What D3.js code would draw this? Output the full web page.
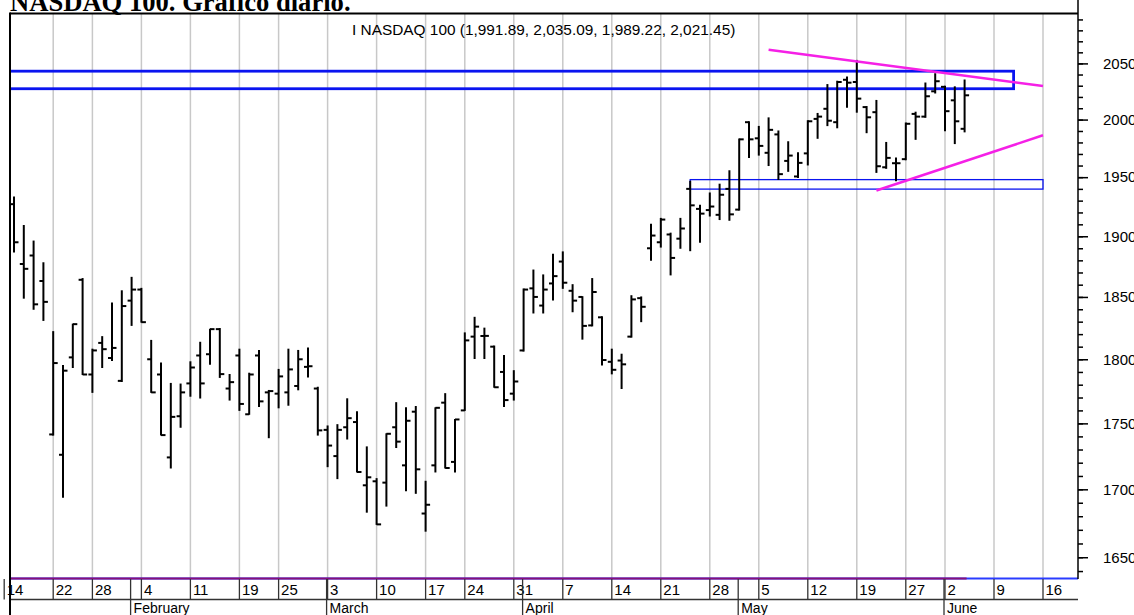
<!DOCTYPE html>
<html><head><meta charset="utf-8">
<script src="https://cdn.jsdelivr.net/npm/d3@7"></script>
<style>body{margin:0;background:#fff;} svg{display:block;}</style>
</head><body>
<svg id="c" width="1134" height="615"></svg>
<script>
// ---- data (daily OHLC, trading-day index 0..97) ----
const opens  = [1927,1877,1884,1863,1741.5,1726,1801.5,1864,1788,1813,1801,1783,1847,1856,1800,1788,1724,1755.5,1781,1803,1804,1824,1777,1803,1757,1803,1774,1773,1774,1779,1794,1777,1745,1725,1747,1751,1703,1706,1705,1747,1718,1759,1682,1718,1766,1720.6,1760,1818,1818.5,1810,1790,1773,1807,1857,1843,1861,1879,1855,1850,1827,1833.5,1798,1799,1818,1849,1890,1895,1901.5,1898,1940,1923,1922,1918,1940,1922.4,1997.7,1983.6,1971,1987,1964,1950.6,1970.5,2000.6,2009.5,1997.7,2035.3,2033.3,2011,2006.5,1958.5,1962,1965.5,2005,2002.6,2025,2029,2017,1991.89];
const highs  = [1933,1909,1896,1878,1822,1795,1828,1865,1808,1818,1845,1855,1866,1857,1815,1797,1781,1780.5,1798,1813.5,1824,1824.5,1788,1808,1789,1807,1775.5,1792,1808,1807,1809,1778,1748,1749,1769,1759,1732,1708,1742,1766,1762,1763,1706,1762,1773,1753,1821,1833.5,1824.8,1810.5,1803,1791,1856.5,1872,1868,1885,1887,1860,1850.2,1865,1834,1808,1804,1851,1850,1910,1915,1902.6,1915,1946.5,1926,1936.5,1944,1955.5,1983,1998,1994,2001.5,1990,1980.6,1971,1999,2005.4,2031,2034,2037.7,2052.7,2011.5,2016.9,1980,1966.6,1997,2006.5,2032.4,2040.7,2029.5,2029,2035.09];
const lows   = [1887,1849,1840,1831,1741,1694,1793.5,1788,1774,1793.5,1799,1782.5,1827,1829.6,1774,1741,1716,1747,1771,1769.6,1796,1785.7,1768,1760,1757,1763,1739,1762,1764,1776,1786,1741,1717,1708,1738,1713,1683,1674,1687.5,1731.5,1699,1697,1669,1713,1716,1713,1760,1800.6,1800.6,1778,1763,1768,1806.5,1837,1837,1847.5,1857,1838,1816,1826.6,1795.5,1788.5,1777,1817.6,1830,1880,1891,1868,1890,1888,1895,1917,1914,1913.4,1922,1967,1969,1960,1948,1955,1949.8,1960.5,1983.6,1994.7,1992.8,2010.9,2006.5,1988.5,1954.1,1957.6,1946.9,1965,1982.7,2002,2023.5,1990.2,1979,1989.22];
const closes = [1895,1873,1844,1846,1797,1791,1828,1788,1807,1808,1809,1842.6,1856,1829.6,1774,1741,1755,1774,1793.5,1781,1824,1788.3,1782,1765,1788,1767,1775,1786.5,1792,1800,1794.5,1744.6,1733,1745,1754,1713,1709,1674,1742,1736,1752,1715,1688.5,1762,1716,1753,1815,1826,1818.6,1778,1768,1782.5,1856,1850,1856,1867,1861.6,1847,1826.6,1854,1799.4,1791.7,1796,1848,1842,1900.6,1914,1882,1906.5,1926,1919,1925,1935,1918.4,1982.7,1982.7,1977,1991,1952.6,1968.6,1962.3,1998.5,2002.6,1999,2033.3,2032.7,2018.5,2002,1959.4,1966.6,1962,1996.3,2002.6,2020.6,2034,2007.4,1998.5,2021.45];

const tickIdx    = [-1,4,8,13,18,23,27,32,37,42,46,51,56,61,66,71,76,81,86,91,95,100,105];
const tickLabels = ["14","22","28","4","11","19","25","3","10","17","24","31","7","14","21","28","5","12","19","27","2","9","16"];
const monthIdx    = [12,32,52,74,95];
const monthLabels = ["February","March","April","May","June"];
const yMajorTicks = [1650,1700,1750,1800,1850,1900,1950,2000,2050];
const yMinorTicks = d3.range(1640, 2100, 10);

// drawn study objects (index, value)
const zoneUpper = {from:-5, to:102, lo:2027.3, hi:2043};
const zoneLower = {from:69, to:105, lo:1939.8, hi:1947.9};
const trendDown = [[77, 2062.4],[105, 2029.7]];
const trendUp   = [[88, 1938.7],[105, 1986.2]];

const title = "NASDAQ 100. Gráfico diario.";
const legendText = "I NASDAQ 100 (1,991.89, 2,035.09, 1,989.22, 2,021.45)";

// ---- layout ----
const L = 10, R = 1078, T = 14, B = 578;
const svg = d3.select("#c");
const x = d3.scaleLinear().domain([0, 105]).range([14, 14 + 105*9.8]);
const y = d3.scaleLog().domain([1635, 2095]).range([B, T]);

svg.append("defs").append("clipPath").attr("id","plot")
  .append("rect").attr("x", L+1).attr("y", T).attr("width", R-L-1).attr("height", B-T);

const plot = svg.append("g").attr("clip-path","url(#plot)");

// vertical grid
plot.selectAll("line.grid").data(tickIdx).join("line")
  .attr("class","grid")
  .attr("x1", d=>x(d)).attr("x2", d=>x(d))
  .attr("y1", T).attr("y2", B)
  .attr("stroke","#c8c8c8").attr("stroke-width",1.5);

// zones
function zone(z, w){
  plot.append("rect")
    .attr("x", x(z.from)).attr("width", x(z.to)-x(z.from))
    .attr("y", y(z.hi)).attr("height", y(z.lo)-y(z.hi))
    .attr("fill","none").attr("stroke","#0a14f0").attr("stroke-width", w);
}
zone(zoneUpper, 2.8);
zone(zoneLower, 1.3);

// OHLC bars
const bars = plot.append("g").attr("stroke","#000").attr("stroke-width",2);
const idx = d3.range(opens.length);
bars.selectAll("line.hl").data(idx).join("line")
  .attr("x1", i=>x(i)).attr("x2", i=>x(i))
  .attr("y1", i=>y(highs[i])-0.5).attr("y2", i=>y(lows[i])+0.5);
bars.selectAll("line.o").data(idx).join("line")
  .attr("x1", i=>x(i)-4).attr("x2", i=>x(i))
  .attr("y1", i=>y(opens[i])).attr("y2", i=>y(opens[i]));
bars.selectAll("line.c").data(idx).join("line")
  .attr("x1", i=>x(i)).attr("x2", i=>x(i)+4.5)
  .attr("y1", i=>y(closes[i])).attr("y2", i=>y(closes[i]));

// trend lines
const tl = d3.line().x(d=>x(d[0])).y(d=>y(d[1]));
[trendDown, trendUp].forEach(t=>{
  plot.append("path").attr("d", tl(t)).attr("fill","none")
    .attr("stroke","#f520e6").attr("stroke-width",2.6);
});

// bottom base line
svg.append("line").attr("x1",L).attr("x2",R).attr("y1",B+0.5).attr("y2",B+0.5)
  .attr("stroke","#2a3cff").attr("stroke-width",2);
svg.append("line").attr("x1",L).attr("x2",x(opens.length-1)+2).attr("y1",B+0.5).attr("y2",B+0.5)
  .attr("stroke","#86107a").attr("stroke-width",2);

// frame
svg.append("line").attr("x1",L).attr("x2",R).attr("y1",T-0.5).attr("y2",T-0.5)
  .attr("stroke","#000").attr("stroke-width",2);

// right axis
const axMinor = d3.axisRight(y).tickValues(yMinorTicks).tickSize(5).tickFormat("");
const axMajor = d3.axisRight(y).tickValues(yMajorTicks).tickSize(10).tickPadding(15).tickFormat(d3.format("d"));
const gMin = svg.append("g").attr("transform",`translate(${R},0)`).call(axMinor);
const gMaj = svg.append("g").attr("transform",`translate(${R},0)`).call(axMajor);
[gMin,gMaj].forEach(g=>{
  g.select(".domain").remove();
  g.selectAll(".tick line").attr("stroke","#000").attr("stroke-width",1.5);
});
gMaj.selectAll("text").attr("fill","#000").style("font-family","'Liberation Sans', Arial, sans-serif").style("font-size","15px");
svg.append("line").attr("x1",R).attr("x2",R).attr("y1",0).attr("y2",B+1)
  .attr("stroke","#000").attr("stroke-width",1.5);

// date axis
const dateG = svg.append("g");
dateG.append("line").attr("x1",L).attr("x2",R).attr("y1",599.5).attr("y2",599.5)
  .attr("stroke","#333").attr("stroke-width",1.3);
dateG.selectAll("line.tk").data(tickIdx).join("line")
  .attr("x1", d=>x(d)).attr("x2", d=>x(d)).attr("y1",B+1).attr("y2",599.5)
  .attr("stroke","#333").attr("stroke-width",1.3);
dateG.selectAll("text.tk").data(tickIdx).join("text")
  .attr("x", d=>x(d)+2.5).attr("y",595)
  .style("font-family","'Liberation Sans', Arial, sans-serif").style("font-size","15px")
  .text((d,i)=>tickLabels[i]);
dateG.selectAll("line.mo").data(monthIdx).join("line")
  .attr("x1", d=>x(d)-1).attr("x2", d=>x(d)-1).attr("y1",B+1).attr("y2",615)
  .attr("stroke","#333").attr("stroke-width",1.3);
dateG.selectAll("text.mo").data(monthIdx).join("text")
  .attr("x", d=>x(d)+2).attr("y",613)
  .style("font-family","'Liberation Sans', Arial, sans-serif").style("font-size","14px")
  .text((d,i)=>monthLabels[i]);
// left frame drawn over the first label
svg.append("line").attr("x1",L).attr("x2",L).attr("y1",T-1.5).attr("y2",615)
  .attr("stroke","#000").attr("stroke-width",2);

// title & legend
svg.append("text").attr("x",10).attr("y",11)
  .style("font-family","'Liberation Serif', 'Times New Roman', serif")
  .style("font-weight","bold").style("font-size","26.6px").text(title);
svg.append("text").attr("x",352).attr("y",35)
  .style("font-family","'Liberation Sans', Arial, sans-serif").style("font-size","15.4px")
  .text(legendText);
</script>
</body></html>
